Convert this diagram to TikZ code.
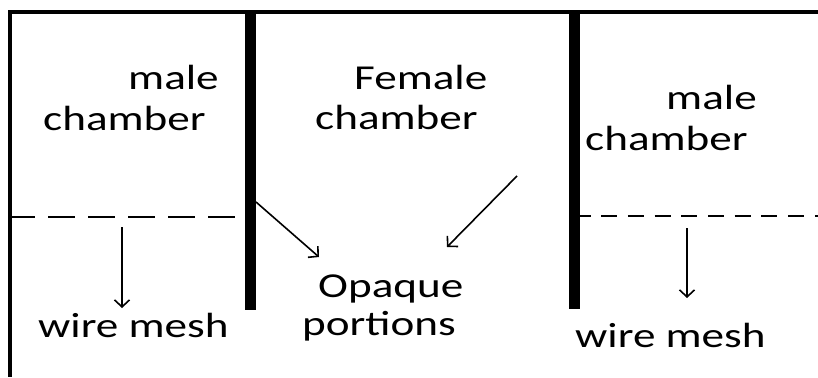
\documentclass[tikz,border=0pt]{standalone}
\usepackage{fontspec}
\setmainfont[FakeStretch=1.29]{Carlito}
\usetikzlibrary{arrows.meta}
\begin{document}
\begin{tikzpicture}[x=1pt,y=-1pt,
  lbl/.style={inner sep=0pt, anchor=base west, font=\fontsize{35}{42}\selectfont},
  wallline/.style={line width=10.5pt},
  frameline/.style={line width=3.5pt},
  meshline/.style={line width=2pt},
  pointer/.style={line width=1.6pt, -{Straight Barb[length=7pt,width=15pt,line width=1.6pt]}}
]
\useasboundingbox (0,0) rectangle (818,377);
% frame
\coordinate (tl) at (8,12);
\coordinate (tr) at (818,12);
\coordinate (lt) at (10,10.5);
\coordinate (lb) at (10,377);
\draw[frameline] (tl) -- (tr);
\draw[frameline] (lt) -- (lb);
% walls
\coordinate (w1t) at (250.5,12);
\coordinate (w1b) at (250.5,310);
\coordinate (w2t) at (574.5,12);
\coordinate (w2b) at (574.5,309);
\draw[wallline] (w1t) -- (w1b);
\draw[wallline] (w2t) -- (w2b);
% wire mesh lines
\coordinate (m1a) at (8,217);
\coordinate (m1b) at (237,217);
\coordinate (m2a) at (574.5,216);
\coordinate (m2b) at (818,216);
\draw[meshline, dash pattern=on 27pt off 13pt] (m1a) -- (m1b);
\draw[meshline, dash pattern=on 16pt off 10.7pt] (m2a) -- (m2b);
% labels
\node[lbl] (lm1) at (128,90) {male};
\node[lbl] (lm2) at (43,130) {chamber};
\node[lbl] (fe1) at (354,90) {Female};
\node[lbl] (fe2) at (315,129) {chamber};
\node[lbl] (rm1) at (666,110) {male};
\node[lbl] (rm2) at (585,150) {chamber};
\node[lbl] (op1) at (318,297) {Opaque};
\node[lbl] (op2) at (302,335) {portions};
\node[lbl] (wm1) at (38,337) {wire mesh};
\node[lbl] (wm2) at (575,347) {wire mesh};
% arrows
\coordinate (a1s) at (256,202);
\coordinate (a1e) at (319,257);
\coordinate (a2s) at (517,176);
\coordinate (a2e) at (447,247);
\coordinate (a3s) at (122,227);
\coordinate (a3e) at (122,308);
\coordinate (a4s) at (687,228);
\coordinate (a4e) at (687,298);
\draw[pointer] (a1s) -- (a1e);
\draw[pointer] (a2s) -- (a2e);
\draw[pointer] (a3s) -- (a3e);
\draw[pointer] (a4s) -- (a4e);
\end{tikzpicture}
\end{document}
